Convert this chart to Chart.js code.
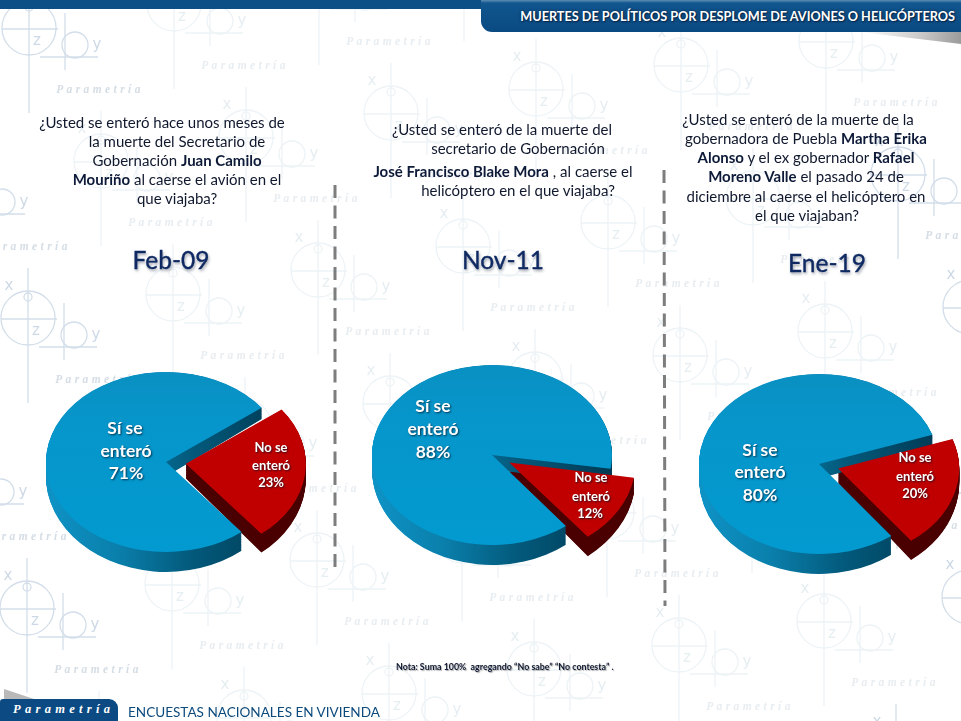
<!DOCTYPE html>
<html lang="es">
<head>
<meta charset="utf-8">
<title>Muertes de políticos por desplome de aviones o helicópteros</title>
<script src="https://cdn.jsdelivr.net/npm/chart.js@4/dist/chart.umd.min.js"></script>
<style>
  html,body{margin:0;padding:0;background:#fff;}
  #page{position:relative;width:961px;height:721px;overflow:hidden;font-family:Lato,"Open Sans",sans-serif;background:#fff;}
  #bg{position:absolute;left:0;top:0;}
  .pie{position:absolute;display:block;}
  .q{position:absolute;white-space:nowrap;transform:translate(-50%,-50%);font-size:15px;color:#10182e;line-height:19px;}
  .q b{font-weight:700;color:#0d1a38;}
  .period{position:absolute;transform:translate(-50%,-50%);font-size:24.5px;color:#0f2a62;-webkit-text-stroke:.35px #0f2a62;text-shadow:1px 2px 3px rgba(60,70,90,.55);white-space:nowrap;}
  #topband{position:absolute;left:0;top:0;width:490px;height:9px;background:#0b4f86;}
  #head{position:absolute;left:481px;top:0;width:480px;height:32px;border-bottom-left-radius:11px;background:linear-gradient(#5e8fb4 0,#11568f 3px,#0a4a82 100%);}
  #headtxt{position:absolute;right:6px;top:16px;transform:translateY(-50%);font-weight:700;font-size:12.7px;color:#fff;white-space:nowrap;text-shadow:0 0 3px rgba(10,30,60,.9),1px 1px 1px #0a2a50;}
  #shadowR{position:absolute;left:860px;top:32px;width:101px;height:12px;background:linear-gradient(100deg,#fff 0,#c9c9c9 60%,#9a9a9a 100%);clip-path:polygon(0 0,100% 0,100% 100%);}
  #shadowL{position:absolute;left:4px;top:689px;width:30px;height:10px;background:#b9b9b9;clip-path:polygon(0 0,100% 100%,0 100%);}
  #brand{position:absolute;left:0;top:699px;width:118px;height:22px;background:#0b4a82;border-top-right-radius:9px;border-top-left-radius:3px;}
  #brandtxt{position:absolute;left:13px;top:3px;font:italic 700 12.5px "Liberation Serif",serif;letter-spacing:4.3px;color:#fff;white-space:nowrap;}
  #foot{position:absolute;left:128px;top:711.5px;transform:translateY(-50%);font-size:13.55px;color:#0d4a7c;white-space:nowrap;}
  #nota{position:absolute;left:396px;top:666px;transform:translateY(-50%);font-size:8.85px;font-weight:700;color:#111a33;white-space:pre;text-shadow:1px 1px 1px rgba(90,90,90,.5);}
</style>
</head>
<body>
<div id="page">
  <canvas id="bg" width="961" height="721"></canvas>
  <div id="topband"></div>
  <div id="head"><div id="headtxt">MUERTES DE POLÍTICOS POR DESPLOME DE AVIONES O HELICÓPTEROS</div></div>
  <div id="shadowR"></div>
  <div id="shadowL"></div>
  <div id="brand"><div id="brandtxt">Parametría</div></div>
  <div id="foot">ENCUESTAS NACIONALES EN VIVIENDA</div>
  <div id="nota">Nota: Suma 100%  agregando “No sabe” “No contesta” .</div>
</div>
<script>
// ---- data ----
const periods = ['Feb-09', 'Nov-11', 'Ene-19'];
const sliceNames = ['Sí se enteró', 'No se enteró'];
const siSeEntero = [71, 88, 80];
const noSeEntero = [23, 12, 20];

// ---- question wording (line by line) ----
const questions = [
  ['¿Usted se enteró hace unos meses de', 'la muerte del Secretario de', 'Gobernación <b>Juan Camilo</b>', '<b>Mouriño</b> al caerse el avión en el', 'que viajaba?'],
  ['¿Usted se enteró de la muerte del', 'secretario de Gobernación', '<b>José Francisco Blake Mora</b> , al caerse el', 'helicóptero en el que viajaba?'],
  ['¿Usted se enteró de la muerte de la', 'gobernadora de Puebla <b>Martha Erika</b>', '<b>Alonso</b> y el ex gobernador <b>Rafael</b>', '<b>Moreno Valle</b> el pasado 24 de', 'diciembre al caerse el helicóptero en', 'el que viajaban?']
];

// ---- layout (page pixels) ----
const qCentersX = [[162,177,177,177,177],[502,518,503,518],[798,806,806,806,806,807]];
const qLinesY = [[122,141,160,179,198],[129,148,171,190],[119,138,157,176,196,215]];
const periodPos = [[171,259],[503,259],[827,262]];
const pieCenters = [[166,462],[492,455],[819,464]];
const pieRotation = [141,142,143];
const blueLabelPos = [[[125,428],[126,451],[126,473]],[[433,406],[433,429],[433,452]],[[760,450],[760,472],[760,495]]];
const redLabelPos = [[[271,448],[271,466],[271,483]],[[591,478],[591,497],[590,514]],[[915,458],[915,477],[915,494]]];
const dividers = [[335,185,574],[664,170,606]];
const W = 320, H = 300, RADIUS = 120, SQUASH = 0.75, EXPLODE = 80;

const page = document.getElementById('page');

// ---- watermark background ----
(function(){
  const c = document.getElementById('bg').getContext('2d');
  const a = [-145,24], b = [72,133];
  function motif(lx,ly){
    const edge = (lx-40 < 110 || lx-40 > 860);
    c.strokeStyle = edge ? '#d3deea' : '#edf3f6';
    c.lineWidth = 1.3;
    const L=(x1,y1,x2,y2)=>{c.beginPath();c.moveTo(lx+x1,ly+y1);c.lineTo(lx+x2,ly+y2);c.stroke();};
    c.beginPath();c.arc(lx-71,ly-62,27,0,7);c.stroke();
    c.beginPath();c.arc(lx-25,ly-45,13,0,7);c.stroke();
    c.beginPath();c.arc(lx-71,ly-83,4,0,7);c.stroke();
    L(-71,-112,-71,23); L(-35,-77,-35,-20); L(-98,-61,-42,-61); L(-60,-33,-2,-33);
    c.fillStyle = edge ? '#cdd9e6' : '#e6eef2';
    c.font='15px "DejaVu Sans",sans-serif'; c.textAlign='center'; c.textBaseline='middle';
    c.fillText('x',lx-90,ly-94); c.fillText('z',lx-63,ly-49); c.fillText('y',lx-3,ly-45);
    c.fillStyle = edge ? '#d5dde5' : '#e8edf1';
    c.font='italic 700 11.5px "Liberation Serif",serif'; c.letterSpacing='3.4px';
    c.fillText('Parametría',lx,ly);
    c.letterSpacing='0px';
  }
  for(let i=-6;i<10;i++) for(let j=-2;j<9;j++){
    const x=100+i*a[0]+j*b[0], y=90+i*a[1]+j*b[1];
    if(x>-80 && x<1060 && y>-20 && y<830) motif(x,y);
  }
  c.strokeStyle='#7d7d7d'; c.lineWidth=3; c.setLineDash([13,7.5]);
  dividers.forEach(d=>{c.beginPath();c.moveTo(d[0],d[1]);c.lineTo(d[0]+ (d[0]>500?1:0),d[2]);c.stroke();});
})();

// ---- question text and period titles ----
questions.forEach((lines,i)=>{
  lines.forEach((t,j)=>{
    const el=document.createElement('div');
    el.className='q'; el.innerHTML=t;
    el.style.left=qCentersX[i][j]+'px'; el.style.top=qLinesY[i][j]+'px';
    page.appendChild(el);
  });
  const p=document.createElement('div');
  p.className='period'; p.textContent=periods[i];
  p.style.left=periodPos[i][0]+'px'; p.style.top=periodPos[i][1]+'px';
  page.appendChild(p);
});

// ---- tilted 3D look: the library's own arc elements are redrawn as stacked layers ----
const tilt3d = {
  id:'tilt3d',
  beforeDatasetsDraw(chart){
    const ctx=chart.ctx, arcs=chart.getDatasetMeta(0).data;
    const cx=arcs[0].x, cy=arcs[0].y;
    const side=ctx.createLinearGradient(cx-RADIUS,0,cx+RADIUS,0);
    side.addColorStop(0,'#0e93c6'); side.addColorStop(.3,'#0a7fab'); side.addColorStop(.6,'#035a7c'); side.addColorStop(1,'#003a54');
    const steps=26;
    const paint=(arc,fill)=>{
      const o=arc.options;
      arc.options=Object.assign(Object.create(o),{backgroundColor:fill,borderWidth:0});
      for(let s=steps;s>=1;s--){
        const t=s/steps;
        ctx.save();
        ctx.translate(cx,cy+14.5*t);
        ctx.scale(1,SQUASH*(1+0.06*t));
        ctx.translate(-cx,-cy);
        arc.draw(ctx);
        ctx.restore();
      }
      arc.options=o;
    };
    paint(arcs[1],'#4a0000');
    paint(arcs[0],side);
    ctx.save();
    ctx.translate(cx,cy); ctx.scale(1,SQUASH); ctx.translate(-cx,-cy);
  },
  afterDatasetsDraw(chart,args,opts){
    const ctx=chart.ctx;
    ctx.restore();
    const rect=chart.canvas.getBoundingClientRect();
    const put=(lines,pos,size)=>{
      ctx.save();
      ctx.font='700 '+size+'px Lato,sans-serif';
      ctx.fillStyle='#fff'; ctx.textAlign='center'; ctx.textBaseline='middle';
      ctx.shadowColor='rgba(0,20,40,.75)'; ctx.shadowBlur=2; ctx.shadowOffsetX=1; ctx.shadowOffsetY=1;
      lines.forEach((t,k)=>ctx.fillText(t,pos[k][0]-rect.left,pos[k][1]-rect.top));
      ctx.restore();
    };
    const vals=chart.data.datasets[0].data, names=chart.data.labels;
    const split=n=>{const w=n.split(' ');return [w[0]+' '+w[1],w[2]];};
    put([...split(names[0]),vals[0]+'%'],opts.blue,17.5);
    put([...split(names[1]),vals[1]+'%'],opts.red,13);
  }
};

periods.forEach((p,i)=>{
  const cv=document.createElement('canvas');
  cv.className='pie'; cv.width=W; cv.height=H;
  cv.style.left=(pieCenters[i][0]-W/2)+'px'; cv.style.top=(pieCenters[i][1]-H/2)+'px';
  cv.style.width=W+'px'; cv.style.height=H+'px';
  page.appendChild(cv);
  const g=cv.getContext('2d');
  const face=g.createLinearGradient(0,H/2-RADIUS,0,H/2+RADIUS);
  face.addColorStop(0,'#0a90c2'); face.addColorStop(.3,'#0696cb'); face.addColorStop(1,'#029ad0');
  new Chart(cv,{
    type:'pie',
    data:{labels:sliceNames,datasets:[{
      data:[siSeEntero[i],noSeEntero[i]],
      backgroundColor:[face,'#c00000'],
      borderWidth:0,
      offset:[0,EXPLODE]
    }]},
    options:{
      responsive:false,animation:false,
      rotation:pieRotation[i],
      radius:RADIUS,
      layout:{padding:0},
      plugins:{legend:{display:false},tooltip:{enabled:false},
        tilt3d:{blue:blueLabelPos[i],red:redLabelPos[i]}}
    },
    plugins:[tilt3d]
  });
});
</script>
</body>
</html>
